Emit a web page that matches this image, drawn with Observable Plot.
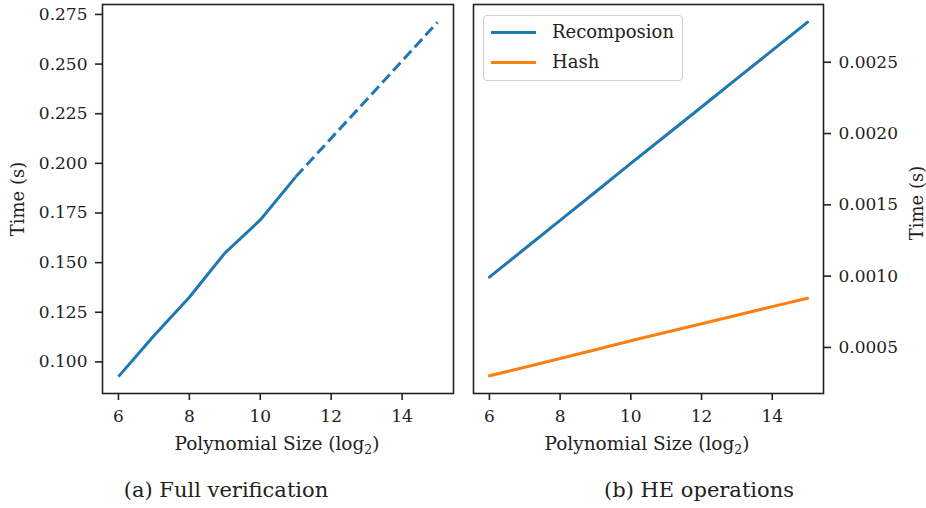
<!DOCTYPE html>
<html><head><meta charset="utf-8">
<script src="https://cdn.jsdelivr.net/npm/d3@7"></script>
<script src="https://cdn.jsdelivr.net/npm/@observablehq/plot@0.6"></script>
<style>
body{margin:0;background:#fff;}
#wrap{position:relative;width:926px;height:508px;font-family:"DejaVu Serif",serif;color:#222;overflow:hidden;}
#wrap svg{position:absolute;top:0;}
#wrap svg text{font-family:"DejaVu Serif",serif;}
.t{position:absolute;font-size:18.5px;white-space:nowrap;line-height:1;}
.cx{transform:translateX(-50%);}
.cap{font-size:21px;}
.rot{transform:translate(-50%,-50%) rotate(-90deg);font-size:18px;}
sub{font-size:12.5px;vertical-align:-4px;line-height:0;}
.legend{position:absolute;left:483px;top:15px;width:198px;height:64px;border:1px solid #d0d0d0;border-radius:4px;background:rgba(255,255,255,0.85);}
.legend .sw{position:absolute;left:7px;width:45px;height:3px;}
.legend .lt{position:absolute;left:68px;font-size:18px;line-height:1;}
</style></head><body><div id="wrap"></div>
<script>
// Polynomial size (log2)
const sizes = [6, 7, 8, 9, 10, 11, 12, 13, 14, 15];
// (a) Full verification time (s); solid up to size 11, dashed beyond
const fullVerification = [0.0926, 0.1132, 0.1326, 0.1548, 0.1715, 0.1932, 0.2127, 0.2320, 0.2516, 0.2711];
const solidUpTo = 11;
// (b) HE operations time (s)
const recomposion = [0.000993, 0.001192, 0.001391, 0.001590, 0.001791, 0.001988, 0.002186, 0.002385, 0.002583, 0.002781];
const hash = [0.000301, 0.000361, 0.000422, 0.000484, 0.000547, 0.000607, 0.000666, 0.000726, 0.000786, 0.000845];
const seriesNames = ["Recomposion", "Hash"];
const seriesColors = ["#1f77b4", "#ff7f0e"];
// tick labels
const xTicks = [6, 8, 10, 12, 14];
const leftYTicks = [0.100, 0.125, 0.150, 0.175, 0.200, 0.225, 0.250, 0.275];
const rightYTicks = [0.0005, 0.0010, 0.0015, 0.0020, 0.0025];

const wrap = document.getElementById("wrap");
const FONT = "DejaVu Serif";
const TICK_FS = 17;
const font = {fontFamily: FONT, fontSize: TICK_FS + "px", color: "#222", background: "transparent"};

const fv = sizes.map((s, i) => ({x: s, y: fullVerification[i]}));
const heData = sizes.flatMap((s, i) => [
  {x: s, y: recomposion[i], series: seriesNames[0]},
  {x: s, y: hash[i], series: seriesNames[1]}
]);

const left = Plot.plot({
  width: 463, height: 460,
  marginLeft: 102, marginRight: 10, marginTop: 4, marginBottom: 67,
  style: font,
  x: {domain: [5.55, 15.45]},
  y: {domain: [0.0841, 0.2800]},
  marks: [
    Plot.line(fv.filter(d => d.x <= solidUpTo), {x: "x", y: "y", stroke: seriesColors[0], strokeWidth: 3, strokeLinecap: "butt"}),
    Plot.line(fv.filter(d => d.x >= solidUpTo), {x: "x", y: "y", stroke: seriesColors[0], strokeWidth: 3, strokeDasharray: "11,5", strokeLinecap: "butt"}),
    Plot.frame({stroke: "#222", strokeWidth: 1.6}),
    Plot.axisX({ticks: xTicks, tickSize: 7, tickPadding: 9, strokeWidth: 1.6, label: null, fontSize: TICK_FS, fontFamily: FONT}),
    Plot.axisY({ticks: leftYTicks, tickFormat: d3.format(".3f"), tickSize: 7, tickPadding: 8, strokeWidth: 1.6, label: null, fontSize: TICK_FS, fontFamily: FONT})
  ]
});
left.style.left = "0px";
wrap.appendChild(left);

const right = Plot.plot({
  width: 463, height: 460,
  marginLeft: 10, marginRight: 103, marginTop: 4, marginBottom: 67,
  style: font,
  x: {domain: [5.55, 15.45]},
  y: {domain: [0.000177, 0.002905]},
  color: {domain: seriesNames, range: seriesColors},
  marks: [
    Plot.line(heData, {x: "x", y: "y", stroke: "series", z: "series", strokeWidth: 3}),
    Plot.frame({stroke: "#222", strokeWidth: 1.6}),
    Plot.axisX({ticks: xTicks, tickSize: 7, tickPadding: 9, strokeWidth: 1.6, label: null, fontSize: TICK_FS, fontFamily: FONT}),
    Plot.axisY({anchor: "right", ticks: rightYTicks, tickFormat: d3.format(".4f"), tickSize: 7, tickPadding: 8, strokeWidth: 1.6, label: null, fontSize: TICK_FS, fontFamily: FONT})
  ]
});
right.style.left = "463px";
wrap.appendChild(right);

function addText(html, cls, x, y) {
  const d = document.createElement("div");
  d.className = "t " + cls;
  d.innerHTML = html;
  d.style.left = x + "px";
  d.style.top = y + "px";
  wrap.appendChild(d);
}
addText("Polynomial Size (log<sub>2</sub>)", "cx", 277, 435);
addText("Polynomial Size (log<sub>2</sub>)", "cx", 647, 435);
addText("Time (s)", "rot", 18, 199);
addText("Time (s)", "rot", 917, 203);
addText("(a) Full verification", "cx cap", 226, 480);
addText("(b) HE operations", "cx cap", 699, 480);

const lg = document.createElement("div");
lg.className = "legend";
seriesNames.forEach((n, i) => {
  const sw = document.createElement("div");
  sw.className = "sw";
  sw.style.top = (15 + i * 30) + "px";
  sw.style.background = seriesColors[i];
  lg.appendChild(sw);
  const t = document.createElement("div");
  t.className = "lt";
  t.style.top = (7 + i * 30) + "px";
  t.textContent = n;
  lg.appendChild(t);
});
wrap.appendChild(lg);
</script></body></html>
